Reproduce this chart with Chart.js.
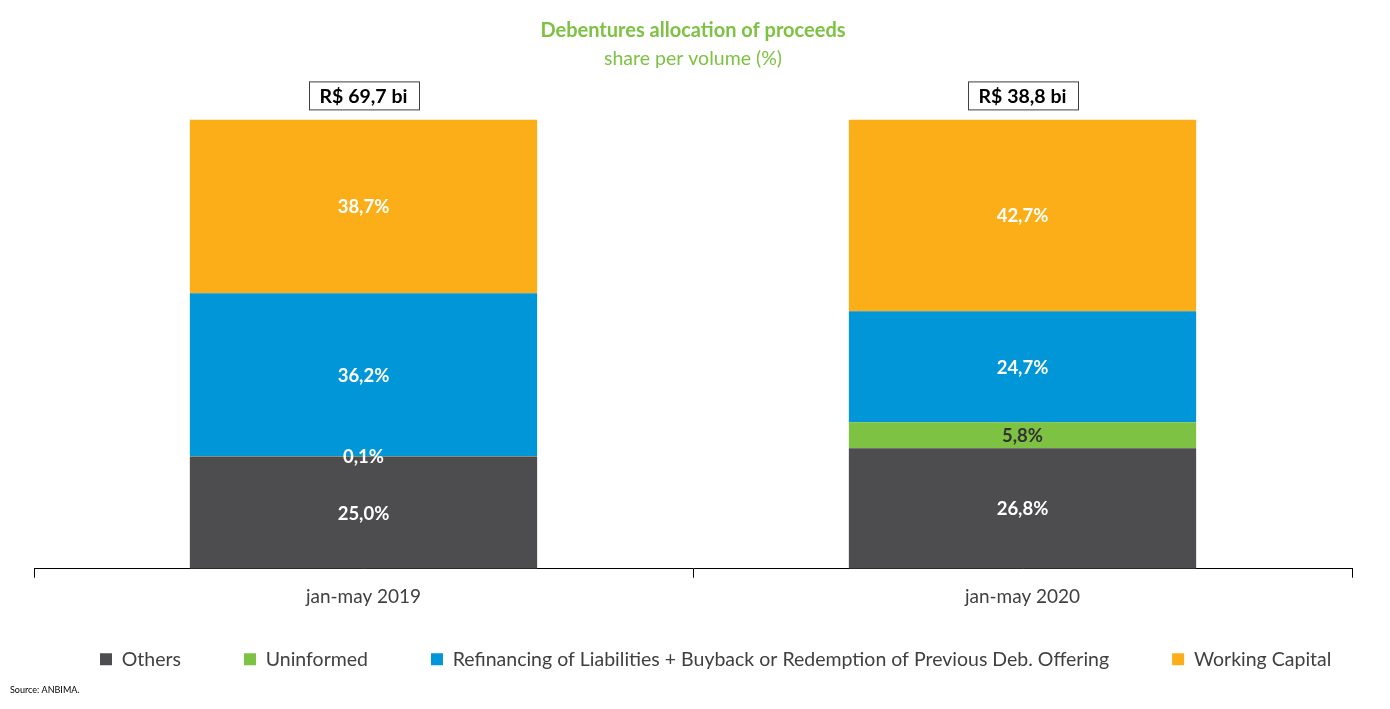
<!DOCTYPE html>
<html>
<head>
<meta charset="utf-8">
<script src="https://cdn.jsdelivr.net/npm/chart.js@4/dist/chart.umd.min.js"></script>
<style>
  html, body { margin: 0; padding: 0; background: #fff; }
  #wrap { width: 1390px; height: 709px; position: relative; }
</style>
</head>
<body>
<div id="wrap"><canvas id="c"></canvas></div>
<script>
// data
const periods = ['jan-may 2019', 'jan-may 2020'];
const totals = ['R$ 69,7 bi', 'R$ 38,8 bi'];
const others = [25.0, 26.8];
const uninformed = [0.1, 5.8];
const refinancing = [36.2, 24.7];
const workingCapital = [38.7, 42.7];

const FONT = 'Lato, "Open Sans", sans-serif';
const COLORS = { others: '#4d4d4f', uninformed: '#7dc242', refi: '#0096d8', wc: '#fbae17', title: '#7dc242' };
const LEGEND_TRIM = 30;   // empty space taken back from the legend's top padding
const LEGEND_START = 100; // x of the first legend box in the original

const fmt = v => v.toFixed(1).replace('.', ',') + '%';

// legend: wide gaps between items on one row, without the tall empty band above it
const legendTweak = {
    id: 'legendTweak',
    beforeLayout(chart) {
        const lg = chart.legend;
        if (!lg || lg._tweaked) return;
        lg._tweaked = true;
        const fit = lg.fit;
        lg.fit = function () {
            const mw = this.maxWidth;
            this.maxWidth = mw + 400;
            fit.call(this);
            this.maxWidth = mw;
            this.width = Math.min(this.width, mw);
            this.height -= LEGEND_TRIM;
        };
    },
    afterLayout(chart) {
        const lg = chart.legend;
        lg.top -= LEGEND_TRIM;
        const p = lg.options.labels.padding;
        const L = lg.lineWidths[0];
        const W = L + p + 100;
        lg.left = (2 * LEGEND_START - p + L - W) / 2;
        lg.right = lg.left + W;
    }
};

// labels inside segments, total boxes above bars, source note
const decorations = {
    id: 'decorations',
    afterDatasetsDraw(chart) {
        const ctx = chart.ctx;
        ctx.save();
        ctx.textAlign = 'center';
        ctx.textBaseline = 'middle';
        ctx.font = 'bold 18.5px ' + FONT;
        chart.data.datasets.forEach((ds, di) => {
            chart.getDatasetMeta(di).data.forEach((bar, i) => {
                const mid = (bar.y + bar.base) / 2;
                ctx.fillStyle = ds.labelColor[i];
                ctx.fillText(fmt(ds.data[i]), bar.x, mid + 1);
            });
        });
        // totals
        const top = chart.chartArea.top;
        chart.getDatasetMeta(0).data.forEach((bar, i) => {
            ctx.font = 'bold 19.5px ' + FONT;
            const w = ctx.measureText(totals[i]).width + 22;
            const h = 28;
            const y = top - 38;
            ctx.fillStyle = '#fff';
            ctx.fillRect(bar.x - w / 2, y, w, h);
            ctx.strokeStyle = '#404040';
            ctx.lineWidth = 1;
            ctx.strokeRect(Math.round(bar.x - w / 2) + 0.5, y + 0.5, Math.round(w), h);
            ctx.fillStyle = '#000';
            ctx.fillText(totals[i], bar.x, y + h / 2 + 1);
        });
        ctx.textAlign = 'left';
        ctx.font = '9px ' + FONT;
        ctx.fillStyle = '#000';
        ctx.fillText('Source: ANBIMA.', 10, 690);
        ctx.restore();
    }
};

new Chart(document.getElementById('c'), {
    type: 'bar',
    data: {
        labels: periods,
        datasets: [
            { label: 'Others', data: others, backgroundColor: COLORS.others, labelColor: ['#fff', '#fff'] },
            { label: 'Uninformed', data: uninformed, backgroundColor: COLORS.uninformed, labelColor: ['#fff', '#333'] },
            { label: 'Refinancing of Liabilities + Buyback or Redemption of Previous Deb. Offering', data: refinancing, backgroundColor: COLORS.refi, labelColor: ['#fff', '#fff'] },
            { label: 'Working Capital', data: workingCapital, backgroundColor: COLORS.wc, labelColor: ['#fff', '#fff'] }
        ]
    },
    options: {
        responsive: true,
        maintainAspectRatio: false,
        animation: false,
        layout: { padding: { left: 34, right: 38, bottom: 30 } },
        datasets: { bar: { categoryPercentage: 1, barPercentage: 0.527, borderWidth: 0 } },
        scales: {
            x: {
                stacked: true,
                border: { color: '#000', width: 1 },
                grid: { drawOnChartArea: false, tickLength: 9, color: '#000', offset: true },
                ticks: { color: '#404040', font: { family: FONT, size: 19 }, padding: 8 }
            },
            y: { stacked: true, display: false, min: 0, max: 100 }
        },
        plugins: {
            title: { display: true, text: 'Debentures allocation of proceeds', color: COLORS.title,
                     font: { family: FONT, size: 20, weight: 'bold' }, padding: { top: 19, bottom: 4 } },
            subtitle: { display: true, text: 'share per volume (%)', color: COLORS.title,
                        font: { family: FONT, size: 19.5, weight: 'normal' }, padding: { top: 0, bottom: 49 } },
            legend: {
                position: 'bottom',
                labels: { color: '#404040', font: { family: FONT, size: 19.5 }, boxWidth: 12, boxHeight: 12, padding: 63 }
            },
            tooltip: { enabled: false }
        }
    },
    plugins: [legendTweak, decorations]
});
</script>
</body>
</html>
